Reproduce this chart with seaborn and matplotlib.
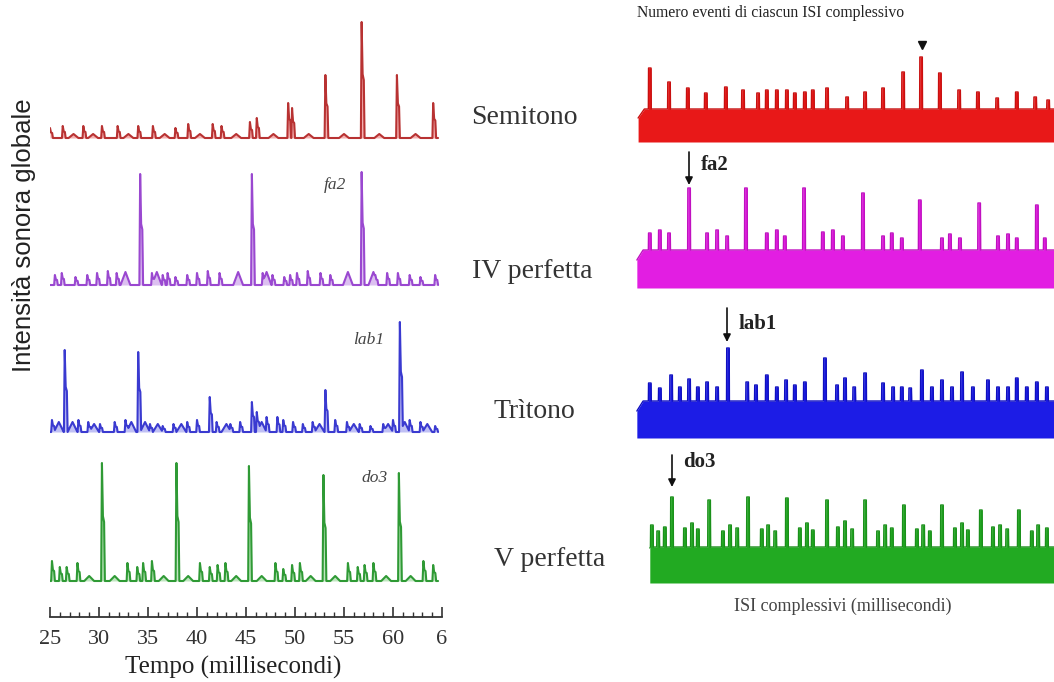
import numpy as np
import matplotlib
matplotlib.use("Agg")
import matplotlib.pyplot as plt
import seaborn as sns
import pandas as pd

W, H = 1054, 682

# ---- pannello sinistro: intensita sonora globale (tempo in ms) ----
semitono_t = [25.0, 26.3, 28.4, 30.3, 31.9, 34.0, 35.5, 37.8, 39.1, 41.6, 42.5,
              45.4, 46.1, 49.3, 49.7, 53.1, 56.8, 60.4, 64.1]
semitono_h = [10, 12, 12, 12, 12, 12, 12, 10, 14, 14, 12, 16, 20, 35, 30, 63, 116, 63, 35]
semitono_hump_t = [27.4, 29.4, 33.0, 36.7, 40.3, 44.0, 47.8, 51.4, 55.0, 58.6, 62.3]
semitono_hump_h = [4, 4, 4, 4, 4, 4, 4, 4, 4, 4, 4]

quarta_t = [25.5, 26.2, 27.6, 28.8, 29.8, 30.9, 31.8, 34.2, 35.4, 36.5, 37.0, 37.8,
            39.0, 40.0, 41.1, 42.3, 45.6, 46.7, 47.7, 48.9, 49.5, 50.2, 51.3, 52.6,
            53.6, 56.8, 58.2, 59.4, 60.5, 61.7, 62.8, 64.3]
quarta_h = [10, 12, 8, 10, 12, 14, 12, 111, 12, 10, 12, 8, 10, 12, 14, 12, 111, 12,
            10, 8, 10, 12, 14, 12, 10, 113, 10, 12, 12, 10, 8, 10]
quarta_hump_t = [32.7, 35.9, 44.2, 47.1, 55.4, 58.0]
quarta_hump_h = [13, 13, 13, 13, 13, 13]

tritono_t = [25.2, 26.5, 27.9, 28.9, 30.1, 31.6, 32.7, 34.0, 35.2, 36.5, 37.6, 39.0,
             40.0, 41.3, 42.0, 43.4, 44.4, 45.6, 46.1, 47.1, 48.2, 48.8, 49.8, 50.8,
             51.8, 53.1, 54.1, 55.3, 56.6, 57.7, 59.0, 60.0, 60.7, 61.7, 62.8, 64.3]
tritono_h = [12, 82, 12, 10, 8, 10, 12, 80, 8, 6, 8, 10, 12, 35, 10, 8, 10, 30, 20,
             15, 15, 12, 10, 8, 10, 42, 12, 10, 8, 6, 8, 12, 110, 12, 10, 6]
tritono_hump_t = [25.9, 27.3, 29.5, 33.3, 34.7, 36.0, 38.4, 43.0, 46.6, 52.5, 56.0,
                  59.5, 61.2, 63.5]
tritono_hump_h = [10, 10, 8, 10, 10, 8, 8, 8, 10, 8, 8, 8, 10, 8]

quinta_t = [25.2, 26.0, 26.7, 27.8, 30.3, 32.9, 33.9, 34.5, 35.4, 37.9, 40.3, 41.3,
            42.1, 42.9, 45.3, 48.0, 48.8, 49.7, 50.5, 52.9, 55.4, 56.4, 57.1, 58.0,
            60.6, 63.1, 64.1]
quinta_h = [20, 14, 14, 18, 118, 18, 14, 18, 20, 118, 18, 14, 16, 18, 115, 18, 12,
            16, 18, 106, 18, 14, 16, 18, 108, 20, 16]
quinta_hump_t = [29.0, 31.6, 36.6, 39.1, 44.0, 46.6, 51.6, 54.1, 59.3, 61.8]
quinta_hump_h = [5, 5, 5, 5, 5, 5, 5, 5, 5, 5]

tempo_ticks = [25, 30, 35, 40, 45, 50, 55, 60, 65]
tempo_labels = ["25", "30", "35", "40", "45", "50", "55", "60", "6"]

# ---- pannello destro: numero eventi per ISI complessivo ----
isi_semitono_t = [3.3, 7.9, 12.4, 16.7, 21.5, 25.6, 29.2, 31.3, 33.7, 36.1, 38.0,
                  40.4, 42.3, 45.7, 50.5, 54.8, 59.1, 63.9, 68.2, 72.7, 77.3, 81.8,
                  86.4, 91.1, 95.5, 98.6]
isi_semitono_h = [74, 60, 54, 49, 55, 52, 49, 52, 52, 52, 49, 50, 52, 54, 45, 50,
                  54, 70, 85, 69, 52, 50, 44, 50, 45, 42]
isi_quarta_t = [3.3, 5.7, 7.9, 12.7, 17.0, 19.4, 21.8, 26.3, 31.3, 33.7, 35.6, 40.2,
                44.7, 47.1, 49.5, 54.3, 59.1, 61.2, 63.6, 67.9, 73.2, 75.1, 77.5,
                82.1, 86.6, 89.0, 91.1, 95.9, 97.8]
isi_quarta_h = [55, 58, 55, 100, 55, 58, 52, 100, 55, 58, 52, 100, 56, 58, 52, 95,
                52, 55, 50, 88, 50, 54, 50, 85, 52, 54, 50, 83, 50]
isi_tritono_t = [3.3, 5.7, 8.4, 10.5, 12.7, 14.8, 17.0, 19.4, 22.0, 26.6, 28.7,
                 31.3, 33.7, 35.9, 38.0, 40.4, 45.2, 48.1, 50.0, 52.2, 54.8, 59.1,
                 61.5, 63.6, 65.6, 68.4, 70.8, 73.2, 75.6, 78.0, 80.6, 84.2, 86.6,
                 89.0, 91.1, 93.5, 95.9, 98.3]
isi_tritono_h = [55, 50, 63, 51, 59, 51, 56, 51, 90, 56, 53, 63, 51, 58, 53, 56, 80,
                 53, 60, 51, 65, 55, 51, 51, 50, 68, 51, 58, 51, 66, 51, 58, 51, 51,
                 60, 51, 56, 51]
isi_quinta_t = [3.8, 5.3, 6.9, 8.6, 11.7, 13.4, 14.8, 17.5, 20.8, 22.5, 24.2, 26.8,
                30.1, 31.6, 33.3, 36.1, 39.2, 40.9, 42.3, 45.7, 48.3, 50.0, 51.7,
                54.8, 57.9, 59.6, 61.2, 64.1, 67.2, 68.7, 70.3, 73.2, 76.3, 78.0,
                79.4, 82.5, 85.4, 87.1, 88.8, 91.6, 94.7, 96.2, 98.3]
isi_quinta_h = [58, 52, 56, 86, 55, 60, 54, 83, 52, 58, 55, 86, 54, 58, 52, 85, 55,
                60, 53, 83, 56, 62, 54, 83, 52, 58, 55, 78, 54, 58, 52, 78, 55, 60,
                53, 73, 56, 58, 54, 73, 52, 58, 55]
isi_start = [0.5, 0.2, 0.2, 3.3]
isi_ramp = [24, 28, 27, 35]
isi_floor = [33, 38, 37, 36]

intervalli = ["Semitono", "IV perfetta", "Trìtono", "V perfetta"]
note_sx = ["", "fa2", "lab1", "do3"]
note_dx = ["", "fa2", "lab1", "do3"]


def px_axes(fig, x0, y0, x1, y1):
    return fig.add_axes([x0 / W, 1 - y1 / H, (x1 - x0) / W, (y1 - y0) / H])


def build_trace(spk_t, spk_h, hmp_t, hmp_h, x0=25.0, x1=64.6):
    shapes = []
    for t, h in zip(spk_t, spk_h):
        shapes.append(([t - 0.08, t, t + 0.1, t + 0.22, t + 0.3],
                       [0, h, 0.55 * h, 0.5 * h, 0]))
    for t, h in zip(hmp_t, hmp_h):
        shapes.append(([t - 0.5, t, t + 0.5], [0, h, 0]))
    xs = np.unique(np.concatenate([s[0] for s in shapes] + [[x0, x1]]))
    xs = xs[(xs >= x0) & (xs <= x1)]
    ys = np.zeros_like(xs)
    for sx, sy in shapes:
        ys = np.maximum(ys, np.interp(xs, sx, sy, left=0, right=0))
    return pd.DataFrame({"t": xs, "v": ys})


def build_hist(spk_t, spk_h, start, ramp, floor, w=0.3):
    shapes = [([start - 0.01, start, start + 1.5, 101], [0, ramp, floor, floor])]
    for t, h in zip(spk_t, spk_h):
        shapes.append(([t - w - 0.05, t - w, t + w, t + w + 0.05],
                       [floor, h, h, floor]))
    xs = np.unique(np.concatenate([s[0] for s in shapes] + [[100]]))
    xs = xs[xs >= start]
    ys = np.zeros_like(xs)
    for sx, sy in shapes:
        ys = np.maximum(ys, np.interp(xs, sx, sy, left=0, right=0))
    return xs, ys


sns.set_theme(style="white")
plt.rcParams["font.family"] = ["Liberation Serif", "DejaVu Serif"]

fig = plt.figure(figsize=(W / 100, H / 100), dpi=100)

# tracce a sinistra
left_data = [
    (semitono_t, semitono_h, semitono_hump_t, semitono_hump_h),
    (quarta_t, quarta_h, quarta_hump_t, quarta_hump_h),
    (tritono_t, tritono_h, tritono_hump_t, tritono_hump_h),
    (quinta_t, quinta_h, quinta_hump_t, quinta_hump_h),
]
left_lines = ["#b83232", "#9a48d0", "#3a3ad0", "#2f9a35"]
left_fills = ["#f4b0b0", "#dcc0f0", "#c0c0f4", "#c0e6c0"]
left_box = [(20, 138), (168, 285), (318, 432), (460, 581)]

for (st, sh, ht, hh), lc, fc, (top, base) in zip(left_data, left_lines, left_fills, left_box):
    ax = px_axes(fig, 50, top, 442, base + 6)
    df = build_trace(st, sh, ht, hh)
    ax.fill_between(df["t"], 0, df["v"], color=fc, lw=0)
    sns.lineplot(data=df, x="t", y="v", ax=ax, color=lc, lw=1.5,
                 estimator=None, sort=False)
    ax.set_xlim(25, 65)
    ax.set_ylim(-6, base - top)
    ax.axis("off")

# righello del tempo
rax = px_axes(fig, 50, 592, 442, 617)
rax.set_xlim(25, 65)
rax.set_ylim(0, 1)
for s in ["top", "left", "right"]:
    rax.spines[s].set_visible(False)
rax.spines["bottom"].set_color("#333333")
rax.spines["bottom"].set_linewidth(1.3)
rax.set_yticks([])
rax.set_xticks(tempo_ticks)
rax.set_xticklabels(tempo_labels, fontsize=16, color="#333333")
rax.set_xticks(np.arange(25, 66, 1), minor=True)
rax.tick_params(axis="x", which="major", direction="in", length=7, width=1.2,
                color="#333333", pad=9, bottom=True)
rax.tick_params(axis="x", which="minor", direction="in", length=3.5, width=1.0,
                color="#333333", bottom=True)
rax.patch.set_alpha(0)

# istogrammi a destra
right_data = [
    (isi_semitono_t, isi_semitono_h),
    (isi_quarta_t, isi_quarta_h),
    (isi_tritono_t, isi_tritono_h),
    (isi_quinta_t, isi_quinta_h),
]
right_colors = ["#e81818", "#e21ee2", "#1c1ce6", "#22aa22"]
right_edges = ["#c81010", "#c010c0", "#1010c0", "#1a901a"]
right_box = [(50, 142), (180, 288), (340, 438), (490, 583)]

for i, ((st, sh), col, ec, (top, base)) in enumerate(
        zip(right_data, right_colors, right_edges, right_box)):
    ax = px_axes(fig, 636, top, 1054, base)
    xs, ys = build_hist(st, sh, isi_start[i], isi_ramp[i], isi_floor[i])
    ax.fill_between(xs, 0, ys, color=col, lw=0)
    sns.lineplot(x=xs, y=ys, ax=ax, color=ec, lw=1.0, estimator=None, sort=False)
    ax.set_xlim(0, 100)
    ax.set_ylim(0, base - top)
    ax.axis("off")

# testi e frecce in coordinate pixel
ov = fig.add_axes([0, 0, 1, 1])
ov.set_xlim(0, W)
ov.set_ylim(H, 0)
ov.axis("off")
ov.patch.set_alpha(0)

ov.text(24, 235, "Intensità sonora globale", rotation=90, ha="center", va="center",
        fontsize=18.5, family="Liberation Sans", color="#222222")
ov.text(233, 667, "Tempo (millisecondi)", ha="center", va="center", fontsize=18,
        color="#222222")

mid_y = [117, 271, 412, 560]
mid_x = [524, 532, 534, 550]
for lab, x, y in zip(intervalli, mid_x, mid_y):
    ov.text(x, y, lab, ha="center", va="center", fontsize=20, color="#333333")

for lab, (x, y) in zip(note_sx[1:], [(335, 185), (369, 340), (375, 478)]):
    ov.text(x, y, lab, ha="center", va="center", fontsize=12.5, style="italic",
            color="#444444")

ov.text(771, 13, "Numero eventi di ciascun ISI complessivo", ha="center",
        va="center", fontsize=11.3, color="#222222")
ov.plot([922], [45], marker="v", color="#111111", markersize=6, ls="none")
ov.text(843, 606, "ISI complessivi (millisecondi)", ha="center", va="center",
        fontsize=13, color="#444444")

arrows = [(689, 152, 185, 701, 165), (727, 308, 342, 739, 324), (672, 455, 487, 683, 462)]
for lab, (ax_x, y0, y1, tx, ty) in zip(note_dx[1:], arrows):
    ov.annotate("", xy=(ax_x, y1), xytext=(ax_x, y0),
                arrowprops=dict(arrowstyle="-|>", color="#111111", lw=1.2,
                                mutation_scale=11, shrinkA=0, shrinkB=0))
    ov.text(tx, ty, lab, ha="left", va="center", fontsize=15,
            fontweight="bold", color="#222222")

fig.savefig("out.png", dpi=100)
